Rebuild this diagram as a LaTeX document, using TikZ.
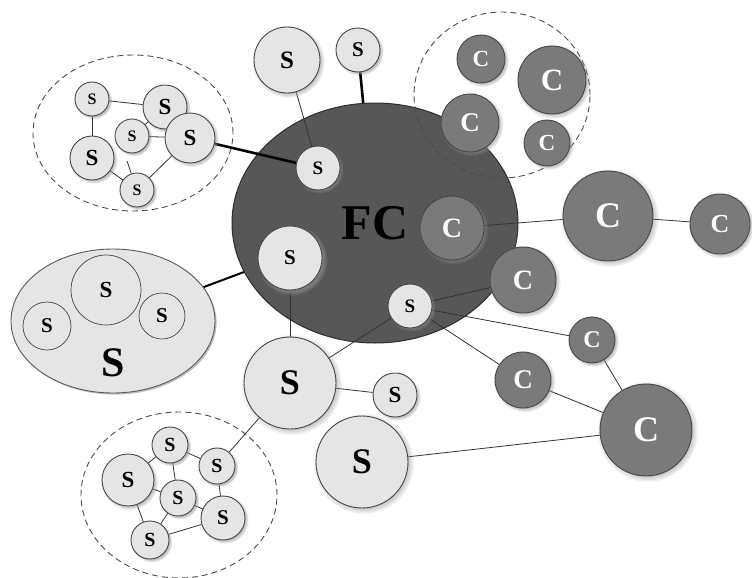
\documentclass[tikz,border=0pt]{standalone}
\usepackage{fontspec}
\setmainfont{Liberation Serif}
\usetikzlibrary{shapes.geometric,shadows}
\pgfdeclarelayer{groups}
\pgfdeclarelayer{links}
\pgfsetlayers{groups,links,main}
\tikzset{
  fsz/.style={font=\fontsize{#1}{#1}\selectfont\bfseries},
  rad/.style={minimum size=2*#1},
  base/.style={circle, inner sep=0pt, line width=0.9pt, draw=black!72,
    circular drop shadow={shadow xshift=1.4pt, shadow yshift=-1.4pt,
      fill=black!45, opacity=0.55}},
  snode/.style={base, fill=black!10, text=black},
  cnode/.style={base, fill=black!52, text=white},
  fcnode/.style={ellipse, inner sep=0pt, fill=black!66, draw=black!82, line width=1pt},
  group/.style={ellipse, draw=black!70, line width=0.9pt, dash pattern=on 6pt off 4pt},
  inner/.style={circle, inner sep=0pt, draw=black!72, line width=0.7pt},
  link/.style={draw=black!80, line width=0.8pt},
  heavy/.style={draw=black, line width=2.6pt},
}
\begin{document}
\begin{tikzpicture}[x=1pt,y=-1pt]
\useasboundingbox (0,0) rectangle (752,578);

% central ellipse and dashed groups
\begin{pgfonlayer}{groups}
  \node[fcnode, minimum width=286, minimum height=240, fsz=50] (FC) at (375,223) {FC};
  \node[group, minimum width=200, minimum height=156] (grpA) at (133,133) {};
  \node[group, minimum width=196, minimum height=166] (grpB) at (179,495) {};
  \node[group, minimum width=176, minimum height=166] (grpD) at (502,95) {};
\end{pgfonlayer}

% top-left group
\node[snode, rad=17, fsz=16] (A1) at (92,99) {S};
\node[snode, rad=22, fsz=23] (A2) at (165,107) {S};
\node[snode, rad=17, fsz=16] (A3) at (132,136) {S};
\node[snode, rad=25, fsz=23] (A4) at (190,138) {S};
\node[snode, rad=22, fsz=23] (A5) at (92,158) {S};
\node[snode, rad=17, fsz=16] (A6) at (137,190) {S};
\coordinate (stub) at (127,161);

% bottom-left group
\node[snode, rad=18, fsz=20] (B1) at (170,445) {S};
\node[snode, rad=26, fsz=23] (B2) at (128,480) {S};
\node[snode, rad=18, fsz=20] (B3) at (217,466) {S};
\node[snode, rad=18, fsz=20] (B4) at (178,498) {S};
\node[snode, rad=22, fsz=21] (B5) at (223,518) {S};
\node[snode, rad=19, fsz=20] (B6) at (150,540) {S};

% top-right group
\node[cnode, rad=24, fsz=23] (D1) at (481,59) {C};
\node[cnode, rad=34, fsz=31] (D2) at (552,80) {C};
\node[cnode, rad=29, fsz=27] (D3) at (470,123) {C};
\node[cnode, rad=23, fsz=23] (D4) at (547,143) {C};

% left composite node
\node[ellipse, inner sep=0pt, minimum width=204, minimum height=144, fill=black!10,
  draw=black!65, line width=0.9pt,
  drop shadow={shadow xshift=1.6pt, shadow yshift=-1.6pt, fill=black!45, opacity=0.55}]
  (E) at (113,321) {};
\node[inner, rad=35, fsz=23, fill=black!10] (E1) at (106,290) {S};
\node[inner, rad=24, fsz=21, fill=black!10] (E2) at (47,326) {S};
\node[inner, rad=23, fsz=21, fill=black!10] (E3) at (162,316) {S};
\node[fsz=42, inner sep=0pt] (Elabel) at (113,363) {S};

% nodes around the centre
\node[snode, rad=33, fsz=25] (T1) at (287,60) {S};
\node[snode, rad=22, fsz=21] (T2) at (358,50) {S};
\node[snode, rad=22, fsz=19] (s4) at (318,168) {S};
\node[base, fill=black!10, rad=32, fsz=21,
  circular drop shadow={shadow xshift=2.5pt, shadow yshift=-2.5pt, fill=black!50, opacity=0.7}]
  (s2) at (290,258) {S};
\node[snode, rad=22, fsz=19] (s1) at (410,306) {S};
\node[cnode, rad=32, fsz=28] (C1) at (452,228) {C};
\node[cnode, rad=45, fsz=36] (C2) at (608,216) {C};
\node[cnode, rad=30, fsz=26] (C3) at (720,224) {C};
\node[cnode, rad=33, fsz=28] (C4) at (523,280) {C};
\node[cnode, rad=23, fsz=24] (C5) at (592,340) {C};
\node[cnode, rad=28, fsz=27] (C6) at (523,380) {C};
\node[cnode, rad=46, fsz=36] (C7) at (646,430) {C};
\node[snode, rad=46, fsz=36] (S1) at (290,383) {S};
\node[snode, rad=22, fsz=23] (s3) at (395,395) {S};
\node[snode, rad=46, fsz=36] (S2) at (362,462) {S};

% connectors
\begin{pgfonlayer}{links}
  \draw[link] (A1) -- (A2);
  \draw[link] (A1) -- (A5);
  \draw[link] (A2) -- (A3);
  \draw[link] (A3) -- (A4);
  \draw[link] (A5) -- (A6);
  \draw[link] (A6) -- (A4);
  \draw[link] (A6) -- (stub);
  \draw[heavy] (A4) -- (s4);
  \draw[link] (T1) -- (s4);
  \draw[heavy] (T2) -- (FC);
  \draw[draw=black, line width=2pt] (E) -- (FC);
  \draw[link] (B1) -- (B2);
  \draw[link] (B1) -- (B3);
  \draw[link] (B1) -- (B4);
  \draw[link] (B2) -- (B4);
  \draw[link] (B2) -- (B6);
  \draw[link] (B4) -- (B6);
  \draw[link] (B4) -- (B5);
  \draw[link] (B3) -- (B5);
  \draw[link] (B6) -- (B5);
  \draw[link] (C1) -- (C2);
  \draw[link] (C2) -- (C3);
  \draw[link] (s1) -- (C4);
  \draw[link] (s1) -- (C5);
  \draw[link] (s1) -- (C6);
  \draw[link] (s1) -- (S1);
  \draw[link] (s2) -- (S1);
  \draw[link] (S1) -- (s3);
  \draw[link] (S1) -- (B3);
  \draw[link] (S2) -- (C7);
  \draw[link] (C5) -- (C7);
  \draw[link] (C6) -- (C7);
\end{pgfonlayer}
\end{tikzpicture}
\end{document}
